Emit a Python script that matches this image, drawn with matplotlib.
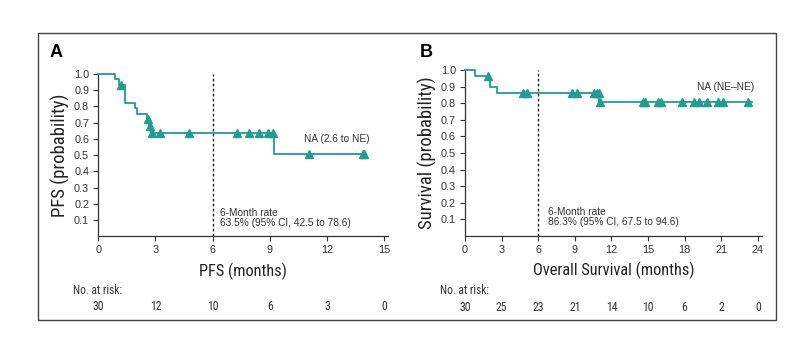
import numpy as np
import matplotlib.pyplot as plt
from matplotlib.patches import Rectangle

plt.rcParams['font.family'] = ['Liberation Sans', 'DejaVu Sans']
COND = ['Roboto Condensed', 'DejaVu Sans']

teal = "#1f9e8e"

# panel A: PFS
pfs_t = [0, 0.88, 1.08, 1.40, 1.92, 2.01, 2.55, 2.68, 2.76, 9.22, 14.0]
pfs_s = [1.0, 0.967, 0.933, 0.823, 0.789, 0.755, 0.72, 0.677, 0.635, 0.508, 0.508]
pfs_cens_t = [1.17, 2.60, 2.70, 2.82, 3.24, 4.76, 7.29, 7.90, 8.44, 8.92, 9.18, 11.07, 13.86, 13.95]
pfs_cens_s = [0.933, 0.72, 0.677, 0.635, 0.635, 0.635, 0.635, 0.635, 0.635, 0.635, 0.635, 0.508, 0.508, 0.508]
pfs_ticks = [0, 3, 6, 9, 12, 15]
pfs_risk = [30, 12, 10, 6, 3, 0]

# panel B: OS
os_t = [0, 0.82, 2.05, 2.60, 11.0, 23.5]
os_s = [1.0, 0.966, 0.897, 0.863, 0.807, 0.807]
os_cens_t = [1.86, 4.78, 5.06, 8.74, 9.21, 10.57, 10.79, 11.0, 11.07, 14.56, 14.78, 15.85, 16.04,
             17.76, 18.77, 19.21, 19.81, 20.77, 21.18, 23.17]
os_cens_s = [0.966, 0.863, 0.863, 0.863, 0.863, 0.863, 0.863, 0.863, 0.807, 0.807, 0.807, 0.807, 0.807,
             0.807, 0.807, 0.807, 0.807, 0.807, 0.807, 0.807]
os_ticks = [0, 3, 6, 9, 12, 15, 18, 21, 24]
os_risk = [30, 25, 23, 21, 14, 10, 6, 2, 0]

yticks = [0.1, 0.2, 0.3, 0.4, 0.5, 0.6, 0.7, 0.8, 0.9, 1.0]

fig = plt.figure(figsize=(7.99, 3.59), dpi=100)
fig.patches.append(Rectangle((0.0470, 0.1086), 0.9242, 0.7994, transform=fig.transFigure,
                             fill=False, edgecolor="#444444", lw=1.0))


def km_panel(ax, t, s, ct, cs, ticks, risk, xmax, ylabel, xlabel, rate, na_text, na_xy, rate_x):
    ax.step(t, s, where="post", color=teal, lw=1.3, clip_on=False, zorder=3)
    ax.plot(ct, cs, "^", color=teal, ms=6, clip_on=False, zorder=4)
    ax.plot([6, 6], [0, 1.0], color="#222222", lw=1.0, ls=(0, (2, 1.6)), zorder=2)
    ax.set_xlim(0, xmax)
    ax.set_ylim(0, 1.0)
    ax.set_xticks(ticks)
    ax.set_yticks(yticks)
    ax.set_yticklabels(["%.1f" % v for v in yticks])
    for sp in ["top", "right"]:
        ax.spines[sp].set_visible(False)
    for sp in ["left", "bottom"]:
        ax.spines[sp].set_color("#333333")
        ax.spines[sp].set_linewidth(0.9)
    ax.tick_params(direction="out", length=3.5, width=0.8, labelsize=7.8, colors="#333333", pad=3)
    ax.set_ylabel(ylabel, fontsize=13.5, family=COND, labelpad=3, color="#222222")
    ax.set_xlabel(xlabel, fontsize=11.8, family=COND, labelpad=5, color="#222222")
    ax.text(rate_x, 0.145, "6-Month rate", fontsize=7.3, color="#333333", va="center")
    ax.text(rate_x, 0.082, rate, fontsize=7.3, color="#333333", va="center")
    ax.text(na_xy[0], na_xy[1], na_text, fontsize=7.3, color="#333333", va="center")
    # numbers at risk, placed under the ticks
    for x, n in zip(ticks, risk):
        ax.text(x, -0.43, str(n), fontsize=8.5, color="#333333", ha="center", va="center",
                transform=ax.get_xaxis_transform(), family=COND)


axA = fig.add_axes([0.1230, 0.3418, 0.3628, 0.4521])
km_panel(axA, pfs_t, pfs_s, pfs_cens_t, pfs_cens_s, pfs_ticks, pfs_risk, 15.2,
         "PFS (probability)", "PFS (months)", "63.5% (95% CI, 42.5 to 78.6)",
         "NA (2.6 to NE)", (10.8, 0.598), 6.38)

axB = fig.add_axes([0.5820, 0.3426, 0.3711, 0.4624])
km_panel(axB, os_t, os_s, os_cens_t, os_cens_s, os_ticks, os_risk, 24.3,
         "Survival (probability)", "Overall Survival (months)", "86.3% (95% CI, 67.5 to 94.6)",
         "NA (NE\u2013NE)", (19.05, 0.90), 6.76)

fig.text(0.0914, 0.191, "No. at risk:", fontsize=8.3, color="#333333", va="center", family=COND)
fig.text(0.5507, 0.191, "No. at risk:", fontsize=8.3, color="#333333", va="center", family=COND)
fig.text(0.062, 0.855, "A", fontsize=13, fontweight="bold", va="center")
fig.text(0.525, 0.855, "B", fontsize=13, fontweight="bold", va="center")

fig.savefig("out.png", dpi=100)
